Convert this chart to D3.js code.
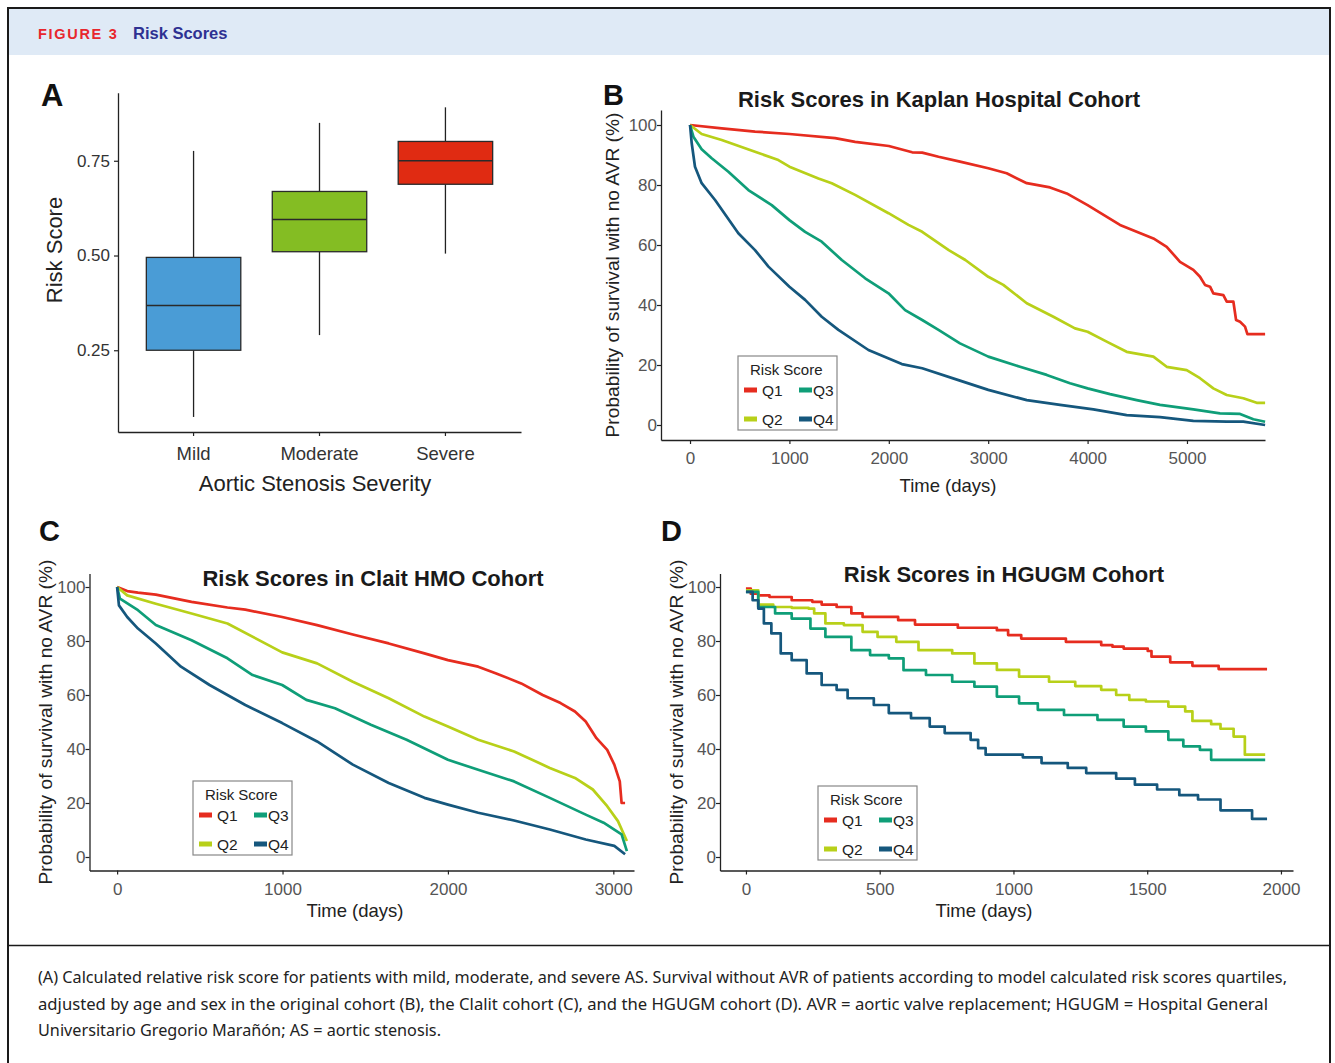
<!DOCTYPE html>
<html><head><meta charset="utf-8">
<script src="https://cdn.jsdelivr.net/npm/d3@7"></script>
<style>
html,body{margin:0;padding:0;background:#fff;}
svg{display:block;font-family:"Liberation Sans",Arial,sans-serif;}
</style></head>
<body>
<svg id="fig" width="1335" height="1063"></svg>
<script>
// ---------- Panel A data ----------
const severityCategories = ["Mild", "Moderate", "Severe"];
const boxWhiskerLow  = [0.074, 0.290, 0.505];
const boxLowerHinge  = [0.250, 0.510, 0.688];
const boxMedian      = [0.368, 0.595, 0.750];
const boxUpperHinge  = [0.495, 0.669, 0.801];
const boxWhiskerHigh = [0.776, 0.850, 0.891];
const boxColors      = ["#4a9cd6", "#84bd23", "#e02b12"];
const riskTicks      = [0.25, 0.50, 0.75];

// ---------- Legend ----------
const quartiles = ["Q1", "Q2", "Q3", "Q4"];
const quartileColors = ["#e62c1f", "#b8d019", "#0f9e78", "#15577d"];

// ---------- Panel B: Kaplan Hospital Cohort ----------
const kaplanQ1 = [[0,100],[319,98.9],[654,97.8],[1000,97],[1460,95.6],[1661,94.4],[2000,93],[2235,90.9],[2336,90.8],[2500,89.4],[2716,87.8],[3001,85.6],[3186,83.9],[3388,80.6],[3622,79.2],[3790,77.2],[4000,73.3],[4326,66.7],[4662,62.2],[4796,59.4],[4930,54.4],[5064,51.7],[5131,49.4],[5181,46.7],[5232,46.1],[5265,43.9],[5366,43.3],[5400,41.1],[5467,41.1],[5494,35],[5534,34.4],[5584,32.8],[5608,30.3],[5786,30.3]];
const kaplanQ2 = [[0,100],[117,97],[319,95],[654,91.1],[889,88.3],[1000,86.1],[1292,82.2],[1426,80.6],[1661,76.7],[1997,70.6],[2198,66.7],[2336,64.4],[2603,58.3],[2770,55],[3001,49.4],[3152,46.7],[3388,40.6],[3656,36.1],[3873,32.2],[4000,31.1],[4192,27.8],[4393,24.4],[4662,22.8],[4796,19.4],[4997,18.3],[5131,15.6],[5265,12.2],[5400,10],[5567,8.9],[5701,7.4],[5786,7.4]];
const kaplanQ3 = [[0,100],[34,96.1],[117,91.9],[218,88.9],[386,84.4],[587,78.3],[822,73.3],[1000,68.3],[1158,64.4],[1325,61.1],[1527,55],[1762,48.9],[1997,43.9],[2164,38.3],[2336,35],[2500,31.7],[2716,27.2],[3001,22.8],[3320,19.4],[3589,16.7],[3823,13.9],[4000,12.2],[4226,10.3],[4494,8.3],[4729,6.7],[5064,5.2],[5332,3.9],[5534,3.7],[5668,1.9],[5786,1.1]];
const kaplanQ4 = [[0,100],[17,93.9],[50,86.1],[117,80.6],[252,75],[486,63.9],[654,58.3],[789,52.8],[1000,46.1],[1158,41.7],[1325,36.1],[1493,31.7],[1795,25],[2131,20.3],[2336,18.9],[2716,14.8],[3001,11.7],[3388,8.3],[3723,6.7],[4058,5.2],[4393,3.3],[4729,2.6],[5064,1.4],[5400,1.1],[5567,1.1],[5786,0]];
const kaplanXTicks = [0, 1000, 2000, 3000, 4000, 5000];

// ---------- Panel C: Clait HMO Cohort ----------
const clalitQ1 = [[0,100],[61,98.5],[126,97.9],[234,97.2],[450,94.5],[667,92.4],[775,91.6],[998,88.9],[1209,85.9],[1425,82.4],[1642,79.1],[1858,75.4],[2000,72.9],[2183,70.5],[2292,68],[2443,64.3],[2573,60],[2681,57],[2768,53.9],[2833,50.2],[2898,44],[2963,39.7],[3006,34.2],[3039,28],[3050,20],[3071,20]];
const clalitQ2 = [[0,100],[61,96.9],[234,93.8],[450,90.2],[667,86.5],[998,75.8],[1209,71.7],[1425,64.9],[1642,58.8],[1858,52],[2000,48.3],[2183,43.4],[2400,39.1],[2616,33],[2768,29.3],[2876,25],[2963,18.8],[3028,13.3],[3082,5.9]];
const clalitQ3 = [[0,100],[17,95.7],[126,91.4],[234,85.9],[450,80.3],[667,73.6],[819,67.4],[998,63.7],[1144,58.2],[1317,55.1],[1534,49],[1750,43.4],[2000,36],[2183,32.3],[2400,28],[2616,21.9],[2833,15.7],[2941,12.7],[3050,8.4],[3082,2.2]];
const clalitQ4 = [[0,100],[11,93.2],[61,88.9],[126,84.6],[234,79.1],[386,70.5],[559,63.7],[775,56.3],[998,49.6],[1209,42.8],[1425,34.2],[1642,27.4],[1858,21.9],[2000,19.4],[2183,16.4],[2400,13.5],[2616,10.2],[2833,6.5],[3006,4.1],[3071,1]];
const clalitXTicks = [0, 1000, 2000, 3000];

// ---------- Panel D: HGUGM Cohort ----------
const hgugmQ1 = [[0,99.4],[18,97.5],[46,96.9],[88,96.3],[171,95.1],[248,94.5],[283,93.5],[339,92.6],[394,90.2],[436,88.9],[569,87.7],[632,86.1],[792,84.9],[938,84],[980,82.2],[1029,80.9],[1196,79.7],[1328,78.5],[1370,77.9],[1412,77.2],[1502,76.3],[1516,74.2],[1586,72.1],[1669,70.8],[1767,69.6],[1948,69.6]];
const hgugmQ2 = [[0,98.8],[46,93.5],[102,92.6],[171,92.3],[234,92],[255,90.2],[297,86.5],[366,85.9],[436,83.4],[492,81.5],[562,79.7],[645,76.6],[771,75.4],[854,71.7],[938,69.3],[1021,66.8],[1133,64.9],[1231,63.3],[1328,61.9],[1384,60],[1433,58.2],[1495,57.6],[1579,55.7],[1642,53.9],[1669,50.4],[1739,49.2],[1774,47.5],[1823,44.6],[1865,37.9],[1941,37.9]];
const hgugmQ3 = [[0,98.2],[46,92.6],[109,90.2],[171,88.3],[241,84.6],[297,81.5],[394,76.6],[464,74.8],[534,73.6],[589,69.2],[673,67.4],[771,64.9],[854,63.1],[938,59.4],[1021,56.9],[1091,54.5],[1189,52.6],[1314,50.8],[1412,48.3],[1495,46.5],[1579,43.4],[1635,41],[1697,39.7],[1739,36],[1941,36]];
const hgugmQ4 = [[0,98.2],[25,95.1],[46,92],[67,86.5],[95,82.8],[130,75.4],[171,72.9],[227,68],[283,63.7],[339,61.9],[380,58.8],[478,56.3],[534,53.3],[617,51.4],[687,48.3],[743,45.9],[840,43.4],[868,40.3],[896,37.9],[1035,36.9],[1105,34.8],[1203,33],[1272,31.1],[1384,29],[1454,26.8],[1537,25],[1620,22.9],[1690,21.3],[1774,17.3],[1892,14.1],[1948,14.1]];
const hgugmXTicks = [0, 500, 1000, 1500, 2000];

const survivalYTicks = [0, 20, 40, 60, 80, 100];

// ---------- Text ----------
const figureLabel = "FIGURE 3";
const figureTitle = "Risk Scores";
const captionLines = [
  "(A) Calculated relative risk score for patients with mild, moderate, and severe AS. Survival without AVR of patients according to model calculated risk scores quartiles,",
  "adjusted by age and sex in the original cohort (B), the Clalit cohort (C), and the HGUGM cohort (D). AVR = aortic valve replacement; HGUGM = Hospital General",
  "Universitario Gregorio Marañón; AS = aortic stenosis."
];

const svg = d3.select("#fig");

// ---------- Frame & header ----------
svg.append("rect").attr("x", 9).attr("y", 9).attr("width", 1320).attr("height", 46).attr("fill", "#dfeaf6");
svg.append("rect").attr("x", 8).attr("y", 8).attr("width", 1322).attr("height", 1070)
  .attr("fill", "none").attr("stroke", "#1a1a1a").attr("stroke-width", 2);
svg.append("line").attr("x1", 8).attr("x2", 1330).attr("y1", 945.5).attr("y2", 945.5)
  .attr("stroke", "#1a1a1a").attr("stroke-width", 1.6);
svg.append("text").attr("x", 38).attr("y", 39).text(figureLabel)
  .attr("font-size", 14.5).attr("font-weight", "bold").attr("letter-spacing", 1.7).attr("fill", "#e8262d");
svg.append("text").attr("x", 133).attr("y", 39).text(figureTitle)
  .attr("font-size", 16.5).attr("font-weight", "bold").attr("fill", "#2e3192");

const capLens = [1249, 1230, 403];
captionLines.forEach((t, i) => {
  svg.append("text").attr("x", 38).attr("y", 983 + i * 26.5).text(t)
    .attr("font-family", "'Noto Sans', 'Open Sans', sans-serif")
    .attr("font-size", 15.5).attr("fill", "#222")
    .attr("textLength", capLens[i]).attr("lengthAdjust", "spacingAndGlyphs");
});

// ---------- Panel A ----------
(function panelA() {
  const g = svg.append("g");
  const x = d3.scaleBand().domain(severityCategories).range([118, 521]).paddingInner(0.25).paddingOuter(0.225);
  const y = d3.scaleLinear().domain([0.0343, 0.9296]).range([432, 92.7]);

  g.append("text").attr("x", 41).attr("y", 106).text("A").attr("font-size", 31).attr("font-weight", "bold").attr("fill", "#111");

  const yAxis = g.append("g").attr("transform", "translate(118,0)")
    .call(d3.axisLeft(y).tickValues(riskTicks).tickFormat(d3.format(".2f")).tickSize(4).tickSizeOuter(0));
  const xAxis = g.append("g").attr("transform", "translate(0,432)")
    .call(d3.axisBottom(x).tickSize(4).tickSizeOuter(0));
  [yAxis, xAxis].forEach(a => {
    a.select(".domain").attr("stroke", "#222").attr("stroke-width", 1.3);
    a.selectAll(".tick line").attr("stroke", "#222").attr("stroke-width", 1.2);
    a.selectAll(".tick text").attr("fill", "#333").attr("font-family", "'Liberation Sans', Arial, sans-serif");
  });
  yAxis.selectAll(".tick text").attr("x", -8).attr("font-size", 17);
  xAxis.selectAll(".tick text").attr("dy", "1.15em").attr("font-size", 18.5);

  severityCategories.forEach((c, i) => {
    const cx = x(c) + x.bandwidth() / 2;
    g.append("line").attr("x1", cx).attr("x2", cx).attr("y1", y(boxWhiskerHigh[i])).attr("y2", y(boxUpperHinge[i]))
      .attr("stroke", "#222").attr("stroke-width", 1.3);
    g.append("line").attr("x1", cx).attr("x2", cx).attr("y1", y(boxLowerHinge[i])).attr("y2", y(boxWhiskerLow[i]))
      .attr("stroke", "#222").attr("stroke-width", 1.3);
    g.append("rect").attr("x", x(c)).attr("width", x.bandwidth())
      .attr("y", y(boxUpperHinge[i])).attr("height", y(boxLowerHinge[i]) - y(boxUpperHinge[i]))
      .attr("fill", boxColors[i]).attr("stroke", "#2a2a2a").attr("stroke-width", 1.3);
    g.append("line").attr("x1", x(c)).attr("x2", x(c) + x.bandwidth()).attr("y1", y(boxMedian[i])).attr("y2", y(boxMedian[i]))
      .attr("stroke", "#2a2a2a").attr("stroke-width", 1.4);
  });

  g.append("text").attr("transform", "translate(62,250) rotate(-90)").attr("text-anchor", "middle")
    .text("Risk Score").attr("font-size", 22).attr("fill", "#222");
  g.append("text").attr("x", 315).attr("y", 491).attr("text-anchor", "middle")
    .text("Aortic Stenosis Severity").attr("font-size", 22).attr("fill", "#222");
})();

// ---------- Survival panels ----------
function survivalPanel(cfg) {
  const g = svg.append("g");
  const x = d3.scaleLinear().domain(cfg.xDomain).range(cfg.xRange);
  const y = d3.scaleLinear().domain([-5, 105]).range(cfg.yRange);

  g.append("text").attr("x", cfg.letterPos[0]).attr("y", cfg.letterPos[1]).text(cfg.letter)
    .attr("font-size", 29).attr("font-weight", "bold").attr("fill", "#111");
  g.append("text").attr("x", cfg.titlePos[0]).attr("y", cfg.titlePos[1]).attr("text-anchor", "middle")
    .text(cfg.title).attr("font-size", 22).attr("font-weight", "bold").attr("fill", "#1a1a1a");

  const yAxis = g.append("g").attr("transform", `translate(${cfg.xRange[0]},0)`)
    .call(d3.axisLeft(y).tickValues(survivalYTicks).tickSize(4).tickSizeOuter(0));
  const xAxis = g.append("g").attr("transform", `translate(0,${cfg.yRange[0]})`)
    .call(d3.axisBottom(x).tickValues(cfg.xTicks).tickFormat(d3.format("d")).tickSize(4).tickSizeOuter(0));
  [yAxis, xAxis].forEach(a => {
    a.select(".domain").attr("stroke", "#222").attr("stroke-width", 1.3);
    a.selectAll(".tick line").attr("stroke", "#222").attr("stroke-width", 1.2);
    a.selectAll(".tick text").attr("font-size", 17).attr("fill", "#555").attr("font-family", "'Liberation Sans', Arial, sans-serif");
  });
  yAxis.selectAll(".tick text").attr("x", -4);
  xAxis.selectAll(".tick text").attr("dy", "1.0em");

  const line = d3.line().x(d => x(d[0])).y(d => y(d[1])).curve(cfg.curve);
  cfg.series.forEach((s, i) => {
    g.append("path").datum(s).attr("d", line).attr("fill", "none")
      .attr("stroke", quartileColors[i]).attr("stroke-width", 2.7).attr("stroke-linejoin", "round");
  });

  g.append("text").attr("transform", `translate(${cfg.yLabelX},${(cfg.yRange[0] + cfg.yRange[1]) / 2}) rotate(-90)`)
    .attr("text-anchor", "middle").text("Probability of survival with no AVR (%)").attr("font-size", 19.2).attr("fill", "#222");
  g.append("text").attr("x", cfg.xLabelPos[0]).attr("y", cfg.xLabelPos[1]).attr("text-anchor", "middle")
    .text("Time (days)").attr("font-size", 18.5).attr("fill", "#222");

  // legend
  const [lx, ly] = cfg.legendPos;
  const lg = g.append("g").attr("transform", `translate(${lx},${ly})`);
  lg.append("rect").attr("x", 0).attr("y", 0).attr("width", 99).attr("height", 74)
    .attr("fill", "#fff").attr("stroke", "#888").attr("stroke-width", 1.2);
  lg.append("text").attr("x", 12).attr("y", 19).text("Risk Score").attr("font-size", 15).attr("fill", "#222");
  const pos = { Q1: [6, 34], Q3: [61, 34], Q2: [6, 63], Q4: [61, 63] };
  quartiles.forEach((q, i) => {
    const [px, py] = pos[q];
    lg.append("rect").attr("x", px).attr("y", py - 2.5).attr("width", 13).attr("height", 5).attr("fill", quartileColors[i]);
    lg.append("text").attr("x", px + (i >= 2 ? 14 : 18)).attr("y", py + 6).text(q).attr("font-size", 15.5).attr("fill", "#222");
  });
}

survivalPanel({
  letter: "B", letterPos: [603, 105],
  title: "Risk Scores in Kaplan Hospital Cohort", titlePos: [939, 107],
  xDomain: [-292, 5785], xRange: [661, 1265], yRange: [440, 110],
  xTicks: kaplanXTicks, series: [kaplanQ1, kaplanQ2, kaplanQ3, kaplanQ4],
  curve: d3.curveLinear, yLabelX: 619, xLabelPos: [948, 492], legendPos: [738, 356]
});
survivalPanel({
  letter: "C", letterPos: [39, 541],
  title: "Risk Scores in Clait HMO Cohort", titlePos: [373, 586],
  xDomain: [-167, 3125], xRange: [89.5, 634], yRange: [870.5, 573.5],
  xTicks: clalitXTicks, series: [clalitQ1, clalitQ2, clalitQ3, clalitQ4],
  curve: d3.curveLinear, yLabelX: 52, xLabelPos: [355, 917], legendPos: [193, 781]
});
survivalPanel({
  letter: "D", letterPos: [661, 541],
  title: "Risk Scores in HGUGM Cohort", titlePos: [1004, 582],
  xDomain: [-97, 2045], xRange: [720, 1293], yRange: [870.5, 573.5],
  xTicks: hgugmXTicks, series: [hgugmQ1, hgugmQ2, hgugmQ3, hgugmQ4],
  curve: d3.curveStepAfter, yLabelX: 683, xLabelPos: [984, 917], legendPos: [818, 786]
});
</script>
</body></html>
